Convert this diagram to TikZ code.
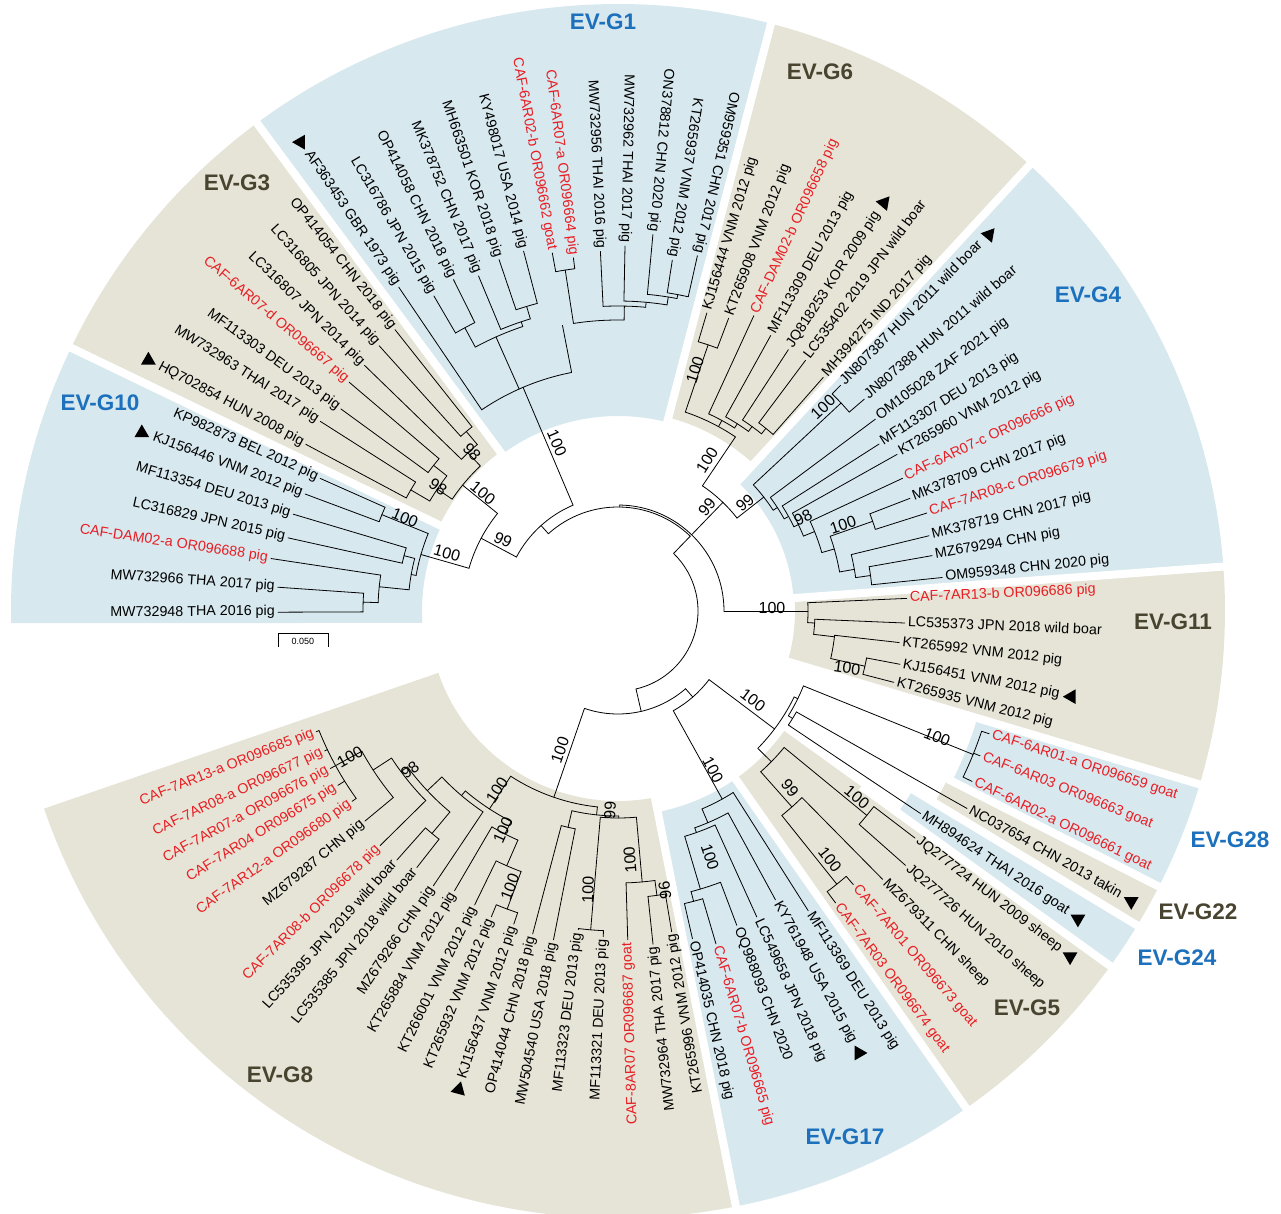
\documentclass[tikz,border=0pt]{standalone}
\usepackage{fontspec}
\setmainfont{Liberation Sans}
\usetikzlibrary{shapes.geometric}
\definecolor{sblue}{RGB}{215,232,239}
\definecolor{skhaki}{RGB}{230,228,214}
\definecolor{tblue}{RGB}{28,112,188}
\definecolor{tkhaki}{RGB}{72,68,48}
\definecolor{tred}{RGB}{232,30,36}
\newcommand{\R}[3]{\draw[br] (#1:#2pt) -- (#1:#3pt);}
\newcommand{\A}[3]{\draw[br] (#2:#1pt) arc[start angle=#2, end angle=#3, radius=#1pt];}
\newcommand{\SEC}[5]{\fill[#1] (#2:#4pt) arc[start angle=#2, end angle=#3, radius=#4pt] -- (#3:#5pt) arc[start angle=#3, end angle=#2, radius=#5pt] -- cycle;}
\newcommand{\GAP}[3]{\draw[white, line width=8pt] (#1:#2pt) -- (#1:#3pt);}
\newcommand{\LR}[5][black]{\node[leaf, text=#1, anchor=west, rotate=#3] (#2) at (#3:#4pt) {#5};}
\newcommand{\LL}[5][black]{\node[leaf, text=#1, anchor=east, rotate=#3+180] (#2) at (#3:#4pt) {#5};}
\newcommand{\TR}[3]{\path (#1) ++(#2:12pt) node[tri, shape border rotate=#3] {};}
\newcommand{\BS}[4]{\node[bs, rotate=#3] at (#1,#2) {#4};}
\begin{document}
\begin{tikzpicture}[x=1pt,y=1pt,
  br/.style={line width=0.8pt, line cap=round, line join=round},
  leaf/.style={inner sep=0pt, font=\fontsize{14.3}{16}\selectfont, text height=0.7em, text depth=0pt},
  bs/.style={inner sep=0pt, font=\fontsize{16}{18}\selectfont},
  cl/.style={inner sep=0pt, font=\fontsize{22.5}{26}\selectfont\bfseries},
  tri/.style={regular polygon, regular polygon sides=3, fill=black, inner sep=0pt, minimum size=17pt}]
\useasboundingbox (-618,-602) rectangle (663,611);
% ---------- sectors ----------
\fill[sblue] (154.3:196pt) arc[start angle=154.3, end angle=183.5, radius=196pt] -- (181.14:607pt) arc[start angle=181.14, end angle=154.3, radius=607pt] -- cycle;
\SEC{skhaki}{126.5}{154.3}{198}{607}
\SEC{sblue}{75.4}{126.5}{195}{607}
\SEC{skhaki}{47.3}{75.4}{200}{607}
\SEC{sblue}{4.2}{47.3}{176}{607}
\SEC{skhaki}{-16.6}{4.2}{177}{607}
\SEC{sblue}{-27}{-16.6}{375}{607}
\SEC{skhaki}{-31.2}{-27}{370}{607}
\SEC{sblue}{-35.8}{-31.2}{345}{607}
\SEC{skhaki}{-55}{-35.8}{205}{607}
\SEC{sblue}{-78.8}{-55}{205}{607}
\SEC{skhaki}{-161}{-78.8}{190}{607}
\GAP{154.3}{150}{620}\GAP{126.5}{150}{620}\GAP{75.4}{150}{620}\GAP{47.3}{150}{620}
\GAP{4.2}{150}{620}\GAP{-16.6}{150}{620}\GAP{-27}{300}{620}\GAP{-31.2}{300}{620}
\GAP{-35.8}{300}{620}\GAP{-55}{150}{620}\GAP{-78.8}{150}{620}
% ---------- backbone ----------
\A{80}{-77}{46}
\R{46}{80}{104}\A{104}{46}{132}
\R{132}{104}{115}\A{115}{113}{152}
\R{113}{115}{243}
\R{152}{115}{155}\A{155}{141}{164}
\R{141}{155}{200}\R{164}{155}{205}
\R{89}{104}{106}\A{106}{0}{89}
\R{46}{106}{151}\A{151}{38}{56}
\R{56}{151}{210}\R{38}{151}{185}
\R{0}{106}{190}
\R{-77}{80}{103}\A{103}{-109}{-49}
\R{-109}{103}{197}
\R{-49}{103}{114}\A{114}{-61}{-37}
\R{-61}{114}{215}\R{-37}{114}{196}
% ---------- G10 ----------
\A{205}{157.8}{170}
\R{157.8}{205}{255}\A{255}{156}{159.5}\R{156}{255}{326}\R{159.5}{255}{334}
\R{170}{205}{210}\A{210}{165.5}{174.2}
\R{165.5}{210}{221}\A{221}{163.4}{167.5}\R{163.4}{221}{339}\R{167.5}{221}{338}
\R{174.2}{210}{240}\A{240}{171.4}{178}\R{171.4}{240}{351}
\R{178}{240}{255}\A{255}{176}{180.2}\R{176}{255}{341}\R{180.2}{255}{340}
% ---------- G3 ----------
\A{200}{133.5}{146}
\R{146}{200}{218}\A{218}{141.7}{149.7}
\R{149.7}{218}{240}\A{240}{147.5}{151.9}\R{151.9}{240}{354}\R{147.5}{240}{353}
\R{141.7}{218}{235}\A{235}{139.6}{143.9}\R{143.9}{235}{343}\R{139.6}{235}{353}
\R{133.5}{200}{218}\A{218}{130.2}{135.9}\R{135.9}{218}{353}
\R{130.2}{218}{235}\A{235}{128.4}{132}\R{132}{235}{357}\R{128.4}{235}{359}
% ---------- G1 ----------
\A{243}{101}{124.1}
\R{124.1}{243}{391}
\R{114}{243}{300}\A{300}{108.5}{118.4}
\R{118.4}{300}{322}\A{322}{116.4}{120.3}\R{120.3}{322}{365}\R{116.4}{322}{370}
\R{108.5}{300}{305}\A{305}{106.7}{112.6}\R{112.6}{305}{363}
\R{106.7}{305}{318}\A{318}{104.7}{108.7}\R{108.7}{318}{371}\R{104.7}{318}{372}
\R{101}{243}{291}\A{291}{88.8}{98.8}
\R{98.8}{291}{345}\A{345}{97.2}{100.4}\R{100.4}{345}{364}\R{97.2}{345}{356}
\R{88.8}{291}{305}\A{305}{84.8}{92.8}\R{92.8}{305}{360}
\R{84.8}{305}{310}\A{310}{80.9}{88.9}\R{88.9}{310}{365}
\R{80.9}{310}{318}\A{318}{79.3}{84.7}\R{84.7}{318}{378}
\R{79.3}{318}{322}\A{322}{77.4}{81.2}\R{81.2}{322}{355}\R{77.4}{322}{364}
% ---------- G6 ----------
\A{210}{56}{71.3}
\R{71.3}{210}{281}\A{281}{69.3}{73.4}\R{73.4}{281}{311}\R{69.3}{281}{313}
\R{61.4}{210}{217}\A{217}{57.5}{65.3}\R{65.3}{217}{325}
\R{57.5}{217}{222}\A{222}{54}{61}\R{61}{222}{315}
\R{54}{222}{228}\A{228}{51}{56.9}\R{56.9}{228}{312}
\R{51}{228}{235}\A{235}{48.7}{53.2}\R{53.2}{235}{313}\R{48.7}{235}{311}
% ---------- G4 ----------
\A{185}{33}{43}
\R{43}{185}{305}\A{305}{40.7}{45.4}\R{45.4}{305}{317}\R{40.7}{305}{325}
\R{33}{185}{190}\A{190}{29}{36.7}\R{36.7}{190}{321}
\R{29}{190}{195}\A{195}{25.6}{32.6}\R{32.6}{195}{310}
\R{25.6}{195}{200}\A{200}{22}{29.3}\R{29.3}{200}{320}
\R{22}{200}{212}\A{212}{16}{25}\R{25}{212}{314}
\R{16}{212}{225}\A{225}{10}{19.4}
\R{19.4}{225}{270}\A{270}{17.6}{21.1}\R{21.1}{270}{313}\R{17.6}{270}{324}
\R{10}{225}{240}\A{240}{8}{13.6}\R{13.6}{240}{320}
\R{8}{240}{255}\A{255}{5.9}{10}\R{10}{255}{319}\R{5.9}{255}{326}
% ---------- G11 ----------
\A{190}{-3.5}{2.5}
\R{2.5}{190}{289}
\R{-3.5}{190}{197}\A{197}{-6.8}{-2.4}\R{-2.4}{197}{287}
\R{-6.8}{197}{218}\A{218}{-12.6}{-6.4}\R{-6.4}{218}{283}
\R{-12.6}{218}{253}\A{253}{-14.5}{-10.7}\R{-10.7}{253}{287}\R{-14.5}{253}{285}
% ---------- G28/G22/G24/G5 ----------
\A{196}{-44.5}{-26}
\R{-26}{196}{200}\A{200}{-31.6}{-22}
\R{-22}{200}{383}\A{383}{-25.7}{-18.3}\R{-18.3}{383}{391}\R{-21.8}{383}{390}\R{-25.7}{383}{393}
\R{-31.6}{200}{205}\A{205}{-33.8}{-29.5}\R{-29.5}{205}{401}\R{-33.8}{205}{364}
\R{-44.5}{196}{215}\A{215}{-48.4}{-39.4}
\R{-39.4}{215}{322}\A{322}{-41.5}{-37.4}\R{-37.4}{322}{374}\R{-41.5}{322}{384}
\R{-48.4}{215}{262}\A{262}{-51.3}{-45.4}\R{-45.4}{262}{377}
\R{-51.3}{262}{350}\A{350}{-53.3}{-49.3}\R{-49.3}{350}{361}\R{-53.3}{350}{364}
% ---------- G17 ----------
\A{215}{-67}{-57.6}
\R{-57.6}{215}{355}
\R{-67}{215}{230}\A{230}{-70.5}{-61.4}\R{-61.4}{230}{329}
\R{-70.5}{230}{235}\A{235}{-73.5}{-65.6}\R{-65.6}{235}{336}
\R{-73.5}{235}{290}\A{290}{-75.4}{-69.3}\R{-69.3}{290}{336}
\R{-75.4}{290}{300}\A{300}{-77.2}{-73.6}\R{-73.6}{300}{347}\R{-77.2}{300}{336}
% ---------- G8 ----------
\A{197}{-123}{-96}
\R{-96}{197}{205}\A{205}{-103}{-89.8}
\R{-103}{205}{222}\A{222}{-104.8}{-101.1}\R{-101.1}{222}{335}\R{-104.8}{222}{334}
\R{-89.8}{205}{207}\A{207}{-94.9}{-84.9}
\R{-94.9}{207}{320}\A{320}{-97.1}{-92.6}\R{-92.6}{320}{326}\R{-97.1}{320}{321}
\R{-84.9}{207}{272}\A{272}{-88.3}{-82.2}\R{-88.3}{272}{329}
\R{-82.2}{272}{287}\A{287}{-84}{-80.5}\R{-84}{287}{335}\R{-80.5}{287}{325}
\R{-123}{197}{236}\A{236}{-130.3}{-116.9}
\R{-116.9}{236}{250}\A{250}{-120.3}{-113.6}
\R{-113.6}{250}{278}\A{278}{-116}{-110.4}
\R{-110.4}{278}{318}\A{318}{-112.5}{-108.4}\R{-108.4}{318}{330}\R{-112.5}{318}{331}
\R{-116}{278}{327}
\R{-120.3}{250}{324}
\R{-130.3}{236}{242}\A{242}{-136.7}{-123.9}\R{-123.9}{242}{331}
\R{-136.7}{242}{262}\A{262}{-143.5}{-129.9}
\R{-129.9}{262}{290}\A{290}{-131.6}{-128.1}\R{-128.1}{290}{326}\R{-131.6}{290}{333}
\R{-143.5}{262}{270}\A{270}{-147}{-135.4}\R{-135.4}{270}{334}
\R{-147}{270}{292}\A{292}{-151.3}{-140.3}\R{-140.3}{292}{329}
\R{-151.3}{292}{322}\A{322}{-158.2}{-144.4}
\R{-144.4}{322}{327}\R{-148.1}{322}{330}\R{-151.3}{322}{328}\R{-154.5}{322}{325}\R{-158.2}{322}{325}
% ---------- leaf labels ----------
\LL{L1}{180.2}{343}{MW732948 THA 2016 pig}
\LL{L2}{176}{344}{MW732966 THA 2017 pig}
\LL[tred]{L3}{171.4}{354}{CAF-DAM02-a OR096688 pig}
\LL{L4}{167.5}{341}{LC316829 JPN 2015 pig}
\LL{L5}{163.4}{342}{MF113354 DEU 2013 pig}
\LL{L6}{159.5}{337}{KJ156446 VNM 2012 pig}
\LL{L7}{156}{329}{KP982873 BEL 2012 pig}
\LL{L8}{151.9}{357}{HQ702854 HUN 2008 pig}
\LL{L9}{147.5}{356}{MW732963 THAI 2017 pig}
\LL{L10}{143.9}{346}{MF113303 DEU 2013 pig}
\LL[tred]{L11}{139.6}{356}{CAF-6AR07-d OR096667 pig}
\LL{L12}{135.9}{356}{LC316807 JPN 2014 pig}
\LL{L13}{132}{360}{LC316805 JPN 2014 pig}
\LL{L14}{128.4}{362}{OP414054 CHN 2018 pig}
\LL{L15}{124.1}{394}{AF363453 GBR 1973 pig}
\LL{L16}{120.3}{368}{LC316786 JPN 2015 pig}
\LL{L17}{116.4}{373}{OP414058 CHN 2018 pig}
\LL{L18}{112.6}{366}{MK378752 CHN 2017 pig}
\LL{L19}{108.7}{374}{MH663501 KOR 2018 pig}
\LL{L20}{104.7}{375}{KY498017 USA 2014 pig}
\LL[tred]{L21}{100.4}{367}{CAF-6AR02-b OR096662 goat}
\LL[tred]{L22}{97.2}{359}{CAF-6AR07-a OR096664 pig}
\LL{L23}{92.8}{363}{MW732956 THAI 2016 pig}
\LL{L24}{88.9}{368}{MW732962 THAI 2017 pig}
\LL{L25}{84.7}{381}{ON378812 CHN 2020 pig}
\LL{L26}{81.2}{358}{KT265937 VNM 2012 pig}
\LL{L27}{77.4}{367}{OM959351 CHN 2017 pig}
\LR{L28}{73.4}{314}{KJ156444 VNM 2012 pig}
\LR{L29}{69.3}{316}{KT265908 VNM 2012 pig}
\LR[tred]{L30}{65.3}{328}{CAF-DAM02-b OR096658 pig}
\LR{L31}{61}{318}{MF113309 DEU 2013 pig}
\LR{L32}{56.9}{315}{JQ818253 KOR 2009 pig}
\LR{L33}{53.2}{316}{LC535402 2019 JPN wild boar}
\LR{L34}{48.7}{314}{MH394275 IND 2017 pig}
\LR{L35}{45.4}{320}{JN807387 HUN 2011 wild boar}
\LR{L36}{40.7}{328}{JN807388 HUN 2011 wild boar}
\LR{L37}{36.7}{324}{OM105028 ZAF 2021 pig}
\LR{L38}{32.6}{313}{MF113307 DEU 2013 pig}
\LR{L39}{29.3}{323}{KT265960 VNM 2012 pig}
\LR[tred]{L40}{25}{317}{CAF-6AR07-c OR096666 pig}
\LR{L41}{21.1}{316}{MK378709 CHN 2017 pig}
\LR[tred]{L42}{17.6}{327}{CAF-7AR08-c OR096679 pig}
\LR{L43}{13.6}{323}{MK378719 CHN 2017 pig}
\LR{L44}{10}{322}{MZ679294 CHN pig}
\LR{L45}{5.9}{329}{OM959348 CHN 2020 pig}
\LR[tred]{L46}{2.5}{292}{CAF-7AR13-b OR096686 pig}
\LR{L47}{-2.4}{290}{LC535373 JPN 2018 wild boar}
\LR{L48}{-6.4}{286}{KT265992 VNM 2012 pig}
\LR{L49}{-10.7}{290}{KJ156451 VNM 2012 pig}
\LR{L50}{-14.5}{288}{KT265935 VNM 2012 pig}
\LR[tred]{L51}{-18.3}{394}{CAF-6AR01-a OR096659 goat}
\LR[tred]{L52}{-21.8}{393}{CAF-6AR03 OR096663 goat}
\LR[tred]{L53}{-25.7}{396}{CAF-6AR02-a OR096661 goat}
\LR{L54}{-29.5}{404}{NC037654 CHN 2013 takin}
\LR{L55}{-33.8}{367}{MH894624 THAI 2016 goat}
\LR{L56}{-37.4}{377}{JQ277724 HUN 2009 sheep}
\LR{L57}{-41.5}{387}{JQ277726 HUN 2010 sheep}
\LR{L58}{-45.4}{380}{MZ679311 CHN sheep}
\LR[tred]{L59}{-49.3}{364}{CAF-7AR01 OR096673 goat}
\LR[tred]{L60}{-53.3}{367}{CAF-7AR03 OR096674 goat}
\LR{L61}{-57.6}{358}{MF113369 DEU 2013 pig}
\LR{L62}{-61.4}{332}{KY761948 USA 2015 pig}
\LR{L63}{-65.6}{339}{LC549658 JPN 2018 pig}
\LR{L64}{-69.3}{339}{OQ988093 CHN 2020}
\LR[tred]{L65}{-73.6}{350}{CAF-6AR07-b OR096665 pig}
\LR{L66}{-77.2}{339}{OP414035 CHN 2018 pig}
\LL{L67}{-80.5}{328}{KT265996 VNM 2012 pig}
\LL{L68}{-84}{338}{MW732964 THA 2017 pig}
\LL[tred]{L69}{-88.3}{332}{CAF-8AR07 OR096687 goat}
\LL{L70}{-92.6}{329}{MF113321 DEU 2013 pig}
\LL{L71}{-97.1}{324}{MF113323 DEU 2013 pig}
\LL{L72}{-101.1}{338}{MW504540 USA 2018 pig}
\LL{L73}{-104.8}{337}{OP414044 CHN 2018 pig}
\LL{L74}{-108.4}{333}{KJ156437 VNM 2012 pig}
\LL{L75}{-112.5}{334}{KT265932 VNM 2012 pig}
\LL{L76}{-116}{330}{KT266001 VNM 2012 pig}
\LL{L77}{-120.3}{327}{KT265884 VNM 2012 pig}
\LL{L78}{-123.9}{334}{MZ679266 CHN pig}
\LL{L79}{-128.1}{329}{LC535385 JPN 2018 wild boar}
\LL{L80}{-131.6}{336}{LC535395 JPN 2019 wild boar}
\LL[tred]{L81}{-135.4}{337}{CAF-7AR08-b OR096678 pig}
\LL{L82}{-140.3}{332}{MZ679287 CHN pig}
\LL[tred]{L83}{-144.4}{330}{CAF-7AR12-a OR096680 pig}
\LL[tred]{L84}{-148.1}{333}{CAF-7AR04 OR096675 pig}
\LL[tred]{L85}{-151.3}{331}{CAF-7AR07-a OR096676 pig}
\LL[tred]{L86}{-154.5}{328}{CAF-7AR08-a OR096677 pig}
\LL[tred]{L87}{-158.2}{328}{CAF-7AR13-a OR096685 pig}
% ---------- reference triangles ----------
\TR{L6.west}{159.5}{0}
\TR{L8.west}{151.9}{0}
\TR{L15.west}{124.1}{90}
\TR{L32.east}{56.9}{-40}
\TR{L35.east}{45.4}{-40}
\TR{L49.east}{-10.7}{90}
\TR{L54.east}{-29.5}{180}
\TR{L55.east}{-33.8}{180}
\TR{L56.east}{-37.4}{180}
\TR{L62.east}{-61.4}{-90}
\TR{L74.west}{-108.4}{-15}
% ---------- bootstrap values ----------
\BS{-61}{168}{-67}{100}
\BS{-146}{159}{-47}{98}
\BS{-180}{124}{-34}{98}
\BS{-135}{118}{-39}{100}
\BS{-115}{71}{-25}{99}
\BS{-213}{93}{-23}{100}
\BS{-171}{58}{-16}{100}
\BS{77}{241}{72}{100}
\BS{89}{151}{58}{100}
\BS{89}{104}{50}{99}
\BS{127}{108}{40}{99}
\BS{205}{204}{43}{100}
\BS{185}{93}{27}{98}
\BS{225}{86}{18}{100}
\BS{154}{3}{0}{100}
\BS{229}{-57}{-8}{100}
\BS{135}{-89}{-37}{100}
\BS{319}{-126}{-22}{100}
\BS{172}{-177}{-52}{99}
\BS{239}{-186}{-40}{100}
\BS{212}{-249}{-52}{100}
\BS{95}{-159}{-62}{100}
\BS{92}{-246}{-72}{100}
\BS{-58}{-139}{71}{100}
\BS{-8}{-199}{88}{99}
\BS{-30}{-279}{88}{100}
\BS{12}{-249}{95}{100}
\BS{47}{-279}{98}{96}
\BS{-121}{-179}{57}{100}
\BS{-115}{-219}{66}{100}
\BS{-108}{-276}{69}{100}
\BS{-208}{-159}{37}{98}
\BS{-268}{-146}{29}{100}
% ---------- clade names ----------
\node[cl, text=tblue] (c1) at (-15,589) {EV-G1};
\node[cl, text=tkhaki] (c6) at (202,539) {EV-G6};
\node[cl, text=tkhaki] (c3) at (-381,428) {EV-G3};
\node[cl, text=tblue] (c10) at (-518,208) {EV-G10};
\node[cl, text=tblue] (c4) at (470,316) {EV-G4};
\node[cl, text=tkhaki] (c11) at (555,-11) {EV-G11};
\node[cl, text=tblue] (c28) at (612,-229) {EV-G28};
\node[cl, text=tkhaki] (c22) at (580,-301) {EV-G22};
\node[cl, text=tblue] (c24) at (559,-347) {EV-G24};
\node[cl, text=tkhaki] (c5) at (409,-397) {EV-G5};
\node[cl, text=tblue] (c17) at (227,-526) {EV-G17};
\node[cl, text=tkhaki] (c8) at (-338,-464) {EV-G8};
% ---------- scale bar ----------
\draw[line width=0.7pt] (-340,-36) -- (-340,-22) -- (-290,-22) -- (-290,-36);
\node[inner sep=0pt, font=\fontsize{9}{10}\selectfont] (sc) at (-315,-30) {0.050};
\end{tikzpicture}
\end{document}
